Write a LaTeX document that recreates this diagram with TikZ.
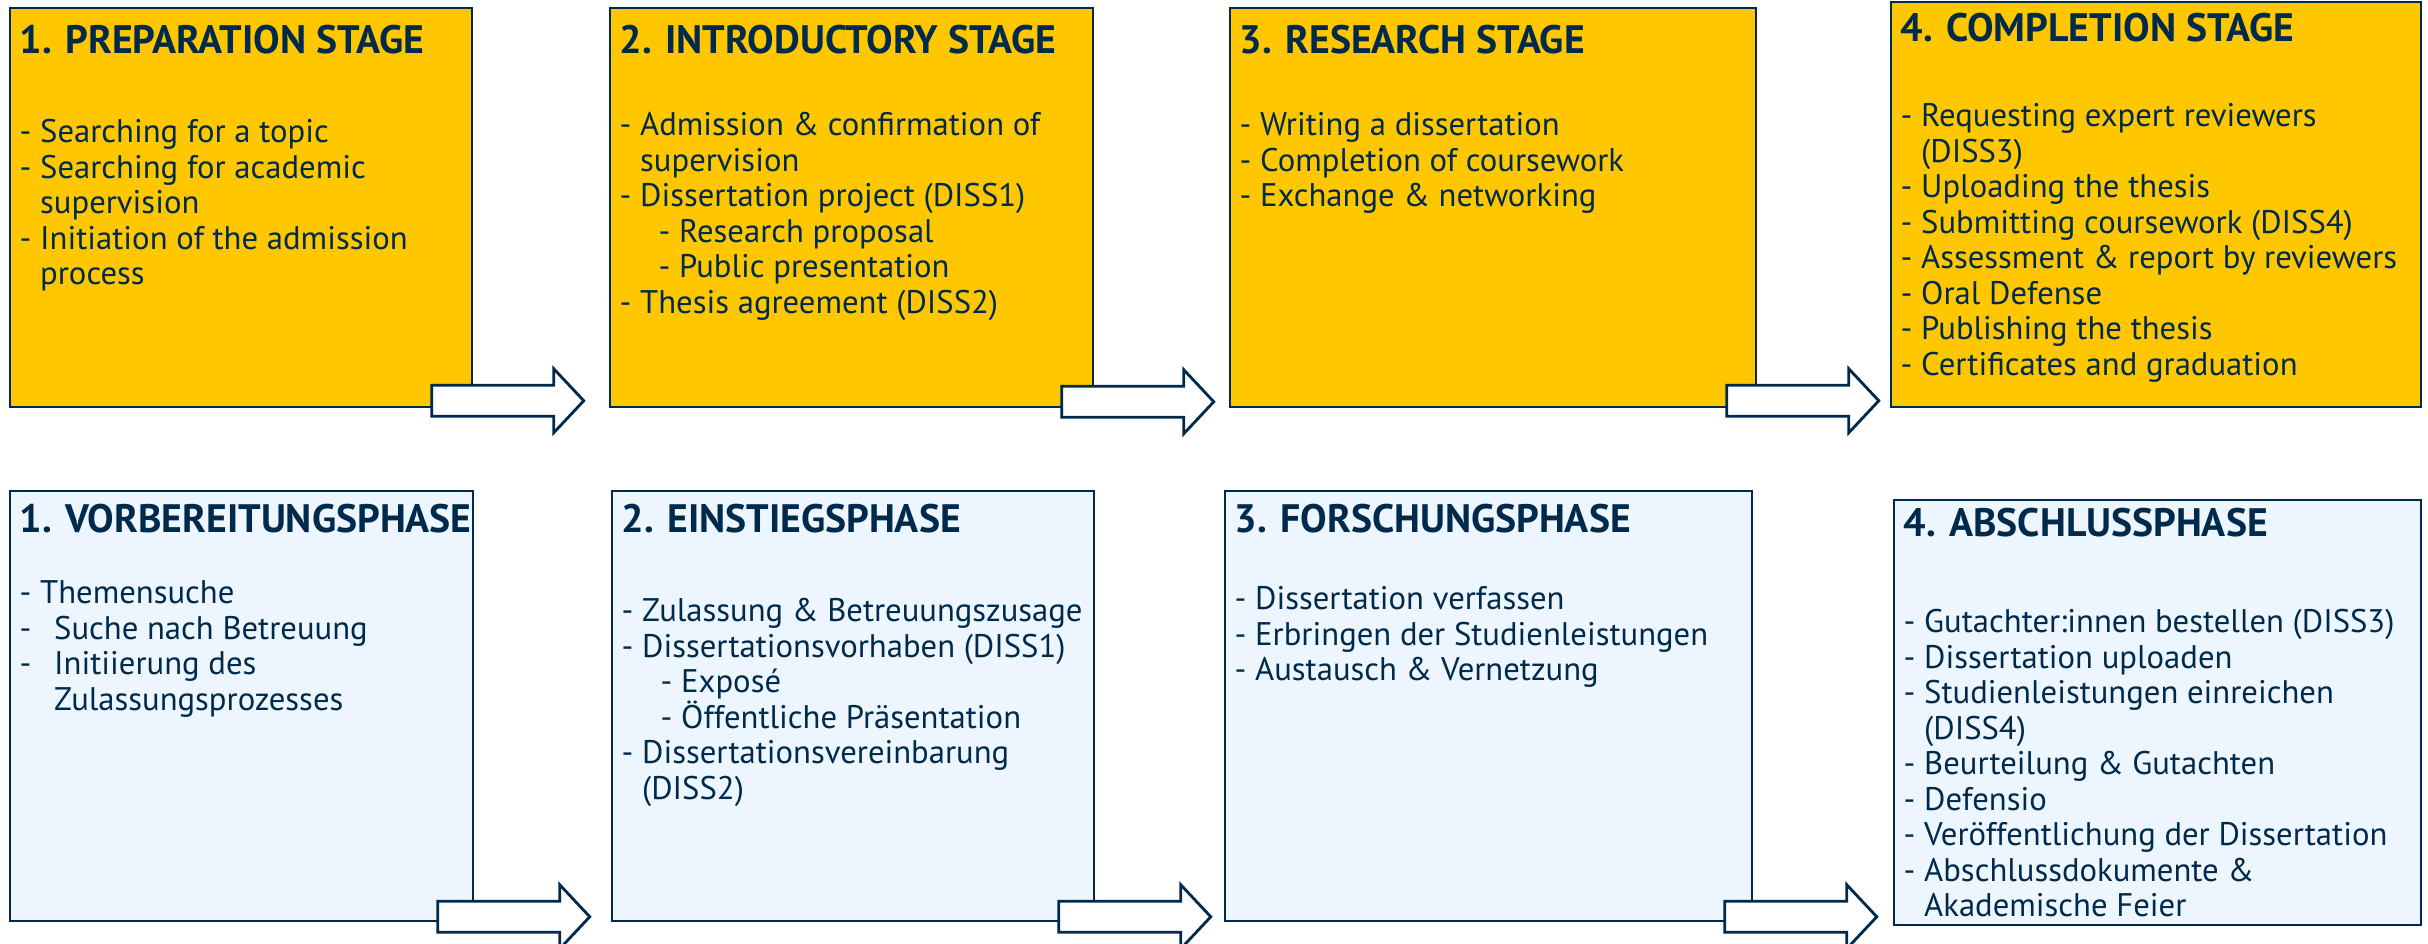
\documentclass[tikz,border=0pt]{standalone}
\usepackage{fontspec}
\setmainfont{PT Sans}
\usetikzlibrary{positioning, calc}

\definecolor{stageyellow}{RGB}{255,199,0}
\definecolor{phaseblue}{RGB}{237,246,254}
\definecolor{darknavy}{RGB}{0,42,76}

\tikzset{
  stagebox/.style={draw=darknavy, line width=0.5pt, fill=stageyellow, anchor=north west, inner sep=0pt},
  phasebox/.style={stagebox, fill=phaseblue},
  headtext/.style={anchor=base west, inner sep=0pt, text=darknavy, font=\fontsize{11.3}{13}\selectfont\bfseries},
  bodytext/.style={anchor=north west, inner sep=0pt, text=darknavy, align=left, font=\fontsize{9.3}{10.1}\selectfont},
  arrowline/.style={draw=darknavy, line width=0.8pt, fill=white, line join=miter}
}

\newcommand{\contind}{\hphantom{-\ }}
\newcommand{\subind}{\hspace*{0.39cm}}
\newcommand{\gapind}{\hspace*{0.14cm}}
\newcommand{\blockarrow}[1]{%
  \draw[arrowline] (#1) ++(0,0.155) -- ++(1.22,0) -- ++(0,0.165) -- ++(0.30,-0.32)
    -- ++(-0.30,-0.32) -- ++(0,0.165) -- ++(-1.22,0) -- cycle;}

\begin{document}
\begin{tikzpicture}
  \useasboundingbox (0,0) rectangle (24.28,9.43);

  % english stages
  \node[stagebox, minimum width=4.62cm, minimum height=3.99cm] (prep) at (0.09,9.36) {};
  \node[stagebox, minimum width=4.83cm, minimum height=3.99cm] (intro) at (6.09,9.36) {};
  \node[stagebox, minimum width=5.26cm, minimum height=3.99cm] (research) at (12.29,9.36) {};
  \node[stagebox, minimum width=5.30cm, minimum height=4.05cm] (compl) at (18.90,9.42) {};

  % german phases
  \node[phasebox, minimum width=4.63cm, minimum height=4.30cm] (vorb) at (0.09,4.53) {};
  \node[phasebox, minimum width=4.82cm, minimum height=4.30cm] (einst) at (6.11,4.53) {};
  \node[phasebox, minimum width=5.27cm, minimum height=4.30cm] (forsch) at (12.24,4.53) {};
  \node[phasebox, minimum width=5.27cm, minimum height=4.25cm] (abschl) at (18.93,4.44) {};

  \node[headtext] (preph) at ($(prep.north west)+(0.10,-0.46)$) {1. PREPARATION STAGE};
  \node[bodytext] (prept) at ($(prep.north west)+(0.10,-1.12)$)
    {- Searching for a topic\\
     - Searching for academic\\
     \contind supervision\\
     - Initiation of the admission\\
     \contind process};

  \node[headtext] (introh) at ($(intro.north west)+(0.10,-0.46)$) {2. INTRODUCTORY STAGE};
  \node[bodytext] (introt) at ($(intro.north west)+(0.10,-1.05)$)
    {- Admission \& confirmation of\\
     \contind supervision\\
     - Dissertation project (DISS1)\\
     \subind - Research proposal\\
     \subind - Public presentation\\
     - Thesis agreement (DISS2)};

  \node[headtext] (researchh) at ($(research.north west)+(0.10,-0.46)$) {3. RESEARCH STAGE};
  \node[bodytext] (researcht) at ($(research.north west)+(0.10,-1.05)$)
    {- Writing a dissertation\\
     - Completion of coursework\\
     - Exchange \& networking};

  \node[headtext] (complh) at ($(compl.north west)+(0.10,-0.41)$) {4. COMPLETION STAGE};
  \node[bodytext] (complt) at ($(compl.north west)+(0.10,-1.02)$)
    {- Requesting expert reviewers\\
     \contind (DISS3)\\
     - Uploading the thesis\\
     - Submitting coursework (DISS4)\\
     - Assessment \& report by reviewers\\
     - Oral Defense\\
     - Publishing the thesis\\
     - Certificates and graduation};

  \node[headtext] (vorbh) at ($(vorb.north west)+(0.10,-0.42)$) {1. VORBEREITUNGSPHASE};
  \node[bodytext] (vorbt) at ($(vorb.north west)+(0.10,-0.90)$)
    {- Themensuche\\
     -\gapind\ Suche nach Betreuung\\
     -\gapind\ Initiierung des\\
     \contind\gapind Zulassungsprozesses};

  \node[headtext] (einsth) at ($(einst.north west)+(0.10,-0.42)$) {2. EINSTIEGSPHASE};
  \node[bodytext] (einstt) at ($(einst.north west)+(0.10,-1.08)$)
    {- Zulassung \& Betreuungszusage\\
     - Dissertationsvorhaben (DISS1)\\
     \subind - Exposé\\
     \subind - Öffentliche Präsentation\\
     - Dissertationsvereinbarung\\
     \contind (DISS2)};

  \node[headtext] (forschh) at ($(forsch.north west)+(0.10,-0.42)$) {3. FORSCHUNGSPHASE};
  \node[bodytext] (forscht) at ($(forsch.north west)+(0.10,-0.96)$)
    {- Dissertation verfassen\\
     - Erbringen der Studienleistungen\\
     - Austausch \& Vernetzung};

  \node[headtext] (abschlh) at ($(abschl.north west)+(0.10,-0.37)$) {4. ABSCHLUSSPHASE};
  \node[bodytext] (abschlt) at ($(abschl.north west)+(0.10,-1.10)$)
    {- Gutachter:innen bestellen (DISS3)\\
     - Dissertation uploaden\\
     - Studienleistungen einreichen\\
     \contind (DISS4)\\
     - Beurteilung \& Gutachten\\
     - Defensio\\
     - Veröffentlichung der Dissertation\\
     - Abschlussdokumente \&\\
     \contind Akademische Feier};

  % block arrows between the boxes
  \coordinate (a1) at ($(prep.south east)+(-0.41,0.07)$);
  \coordinate (a2) at ($(intro.south east)+(-0.32,0.06)$);
  \coordinate (a3) at ($(research.south east)+(-0.30,0.07)$);
  \coordinate (b1) at ($(vorb.south east)+(-0.36,0.05)$);
  \coordinate (b2) at ($(einst.south east)+(-0.36,0.05)$);
  \coordinate (b3) at ($(forsch.south east)+(-0.28,0.05)$);
  \blockarrow{a1}
  \blockarrow{a2}
  \blockarrow{a3}
  \blockarrow{b1}
  \blockarrow{b2}
  \blockarrow{b3}
\end{tikzpicture}
\end{document}
